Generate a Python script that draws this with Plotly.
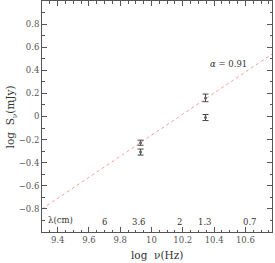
import plotly.graph_objects as go

# data
log_nu = [9.93, 9.93, 10.345, 10.345]
log_S = [-0.227, -0.308, 0.161, -0.009]
log_S_err = [0.022, 0.026, 0.033, 0.026]

fit_x = [9.3, 10.77]
fit_y = [-0.80, 0.54]
alpha_text = "<i>α</i> = 0.91"

wl_labels = ["6", "3.6", "2", "1.3", "0.7"]
wl_lognu = [9.70, 9.92, 10.18, 10.34, 10.63]

x_ticks = [9.4, 9.6, 9.8, 10.0, 10.2, 10.4, 10.6]
x_ticktext = ["9.4", "9.6", "9.8", "10", "10.2", "10.4", "10.6"]
y_ticks = [-0.8, -0.6, -0.4, -0.2, 0, 0.2, 0.4, 0.6, 0.8]
y_ticktext = ["\u22120.8", "\u22120.6", "\u22120.4", "\u22120.2", "0", "0.2", "0.4", "0.6", "0.8"]

FONT = "DejaVu Serif"
GREY = "#555555"

fig = go.Figure()
fig.add_trace(go.Scatter(
    x=fit_x, y=fit_y, mode="lines",
    line=dict(color="#ff9a9a", width=1, dash="dot"),
    hoverinfo="skip", showlegend=False))
fig.add_trace(go.Scatter(
    x=log_nu, y=log_S, mode="markers",
    marker=dict(size=3, color="#666666"),
    error_y=dict(type="data", array=log_S_err, visible=True,
                 color="#444444", thickness=1, width=3),
    showlegend=False))

axis_common = dict(
    showline=True, linecolor="#555555", linewidth=1, mirror="allticks",
    ticks="inside", ticklen=5, tickcolor="#555555", tickwidth=1,
    showgrid=False, zeroline=False,
    tickfont=dict(family=FONT, size=8.5, color=GREY),
)
fig.update_xaxes(range=[9.3, 10.77], tickvals=x_ticks, ticktext=x_ticktext,
                 minor=dict(dtick=0.05, tick0=9.3, ticks="inside", ticklen=2.5,
                            tickcolor="#555555", showgrid=False),
                 **axis_common)
fig.update_yaxes(range=[-1, 1], tickvals=y_ticks, ticktext=y_ticktext,
                 minor=dict(dtick=0.1, tick0=0, ticks="inside", ticklen=2.5,
                            tickcolor="#555555", showgrid=False),
                 **axis_common)

annotations = [
    dict(x=10.49, y=0.454, xref="x", yref="y", text=alpha_text,
         showarrow=False, font=dict(family=FONT, size=8.5, color="#333333")),
    dict(x=9.42, y=-0.90, xref="x", yref="y", text="λ(cm)",
         showarrow=False, font=dict(family=FONT, size=8.5, color="#333333")),
    dict(x=0.5, y=-0.065, xref="paper", yref="paper", text="log  ν(Hz)",
         xanchor="center", yanchor="top", showarrow=False,
         font=dict(family=FONT, size=10.5, color="#333333")),
    dict(x=-0.135, y=0.5, xref="paper", yref="paper",
         text="log  S<sub>ν</sub>(mJy)", textangle=-90,
         xanchor="center", yanchor="middle", showarrow=False,
         font=dict(family=FONT, size=10.5, color="#333333")),
]
for lab, xv in zip(wl_labels, wl_lognu):
    annotations.append(dict(x=xv, y=-0.91, xref="x", yref="y", text=lab,
                            showarrow=False,
                            font=dict(family=FONT, size=8.5, color="#333333")))

fig.update_layout(
    width=275, height=263,
    margin=dict(l=42, r=3, t=1, b=31),
    plot_bgcolor="white", paper_bgcolor="white",
    annotations=annotations,
)

fig.write_html("out.html", config={"displayModeBar": False},
               post_script="document.body.style.margin='0';document.body.style.overflow='hidden';")
